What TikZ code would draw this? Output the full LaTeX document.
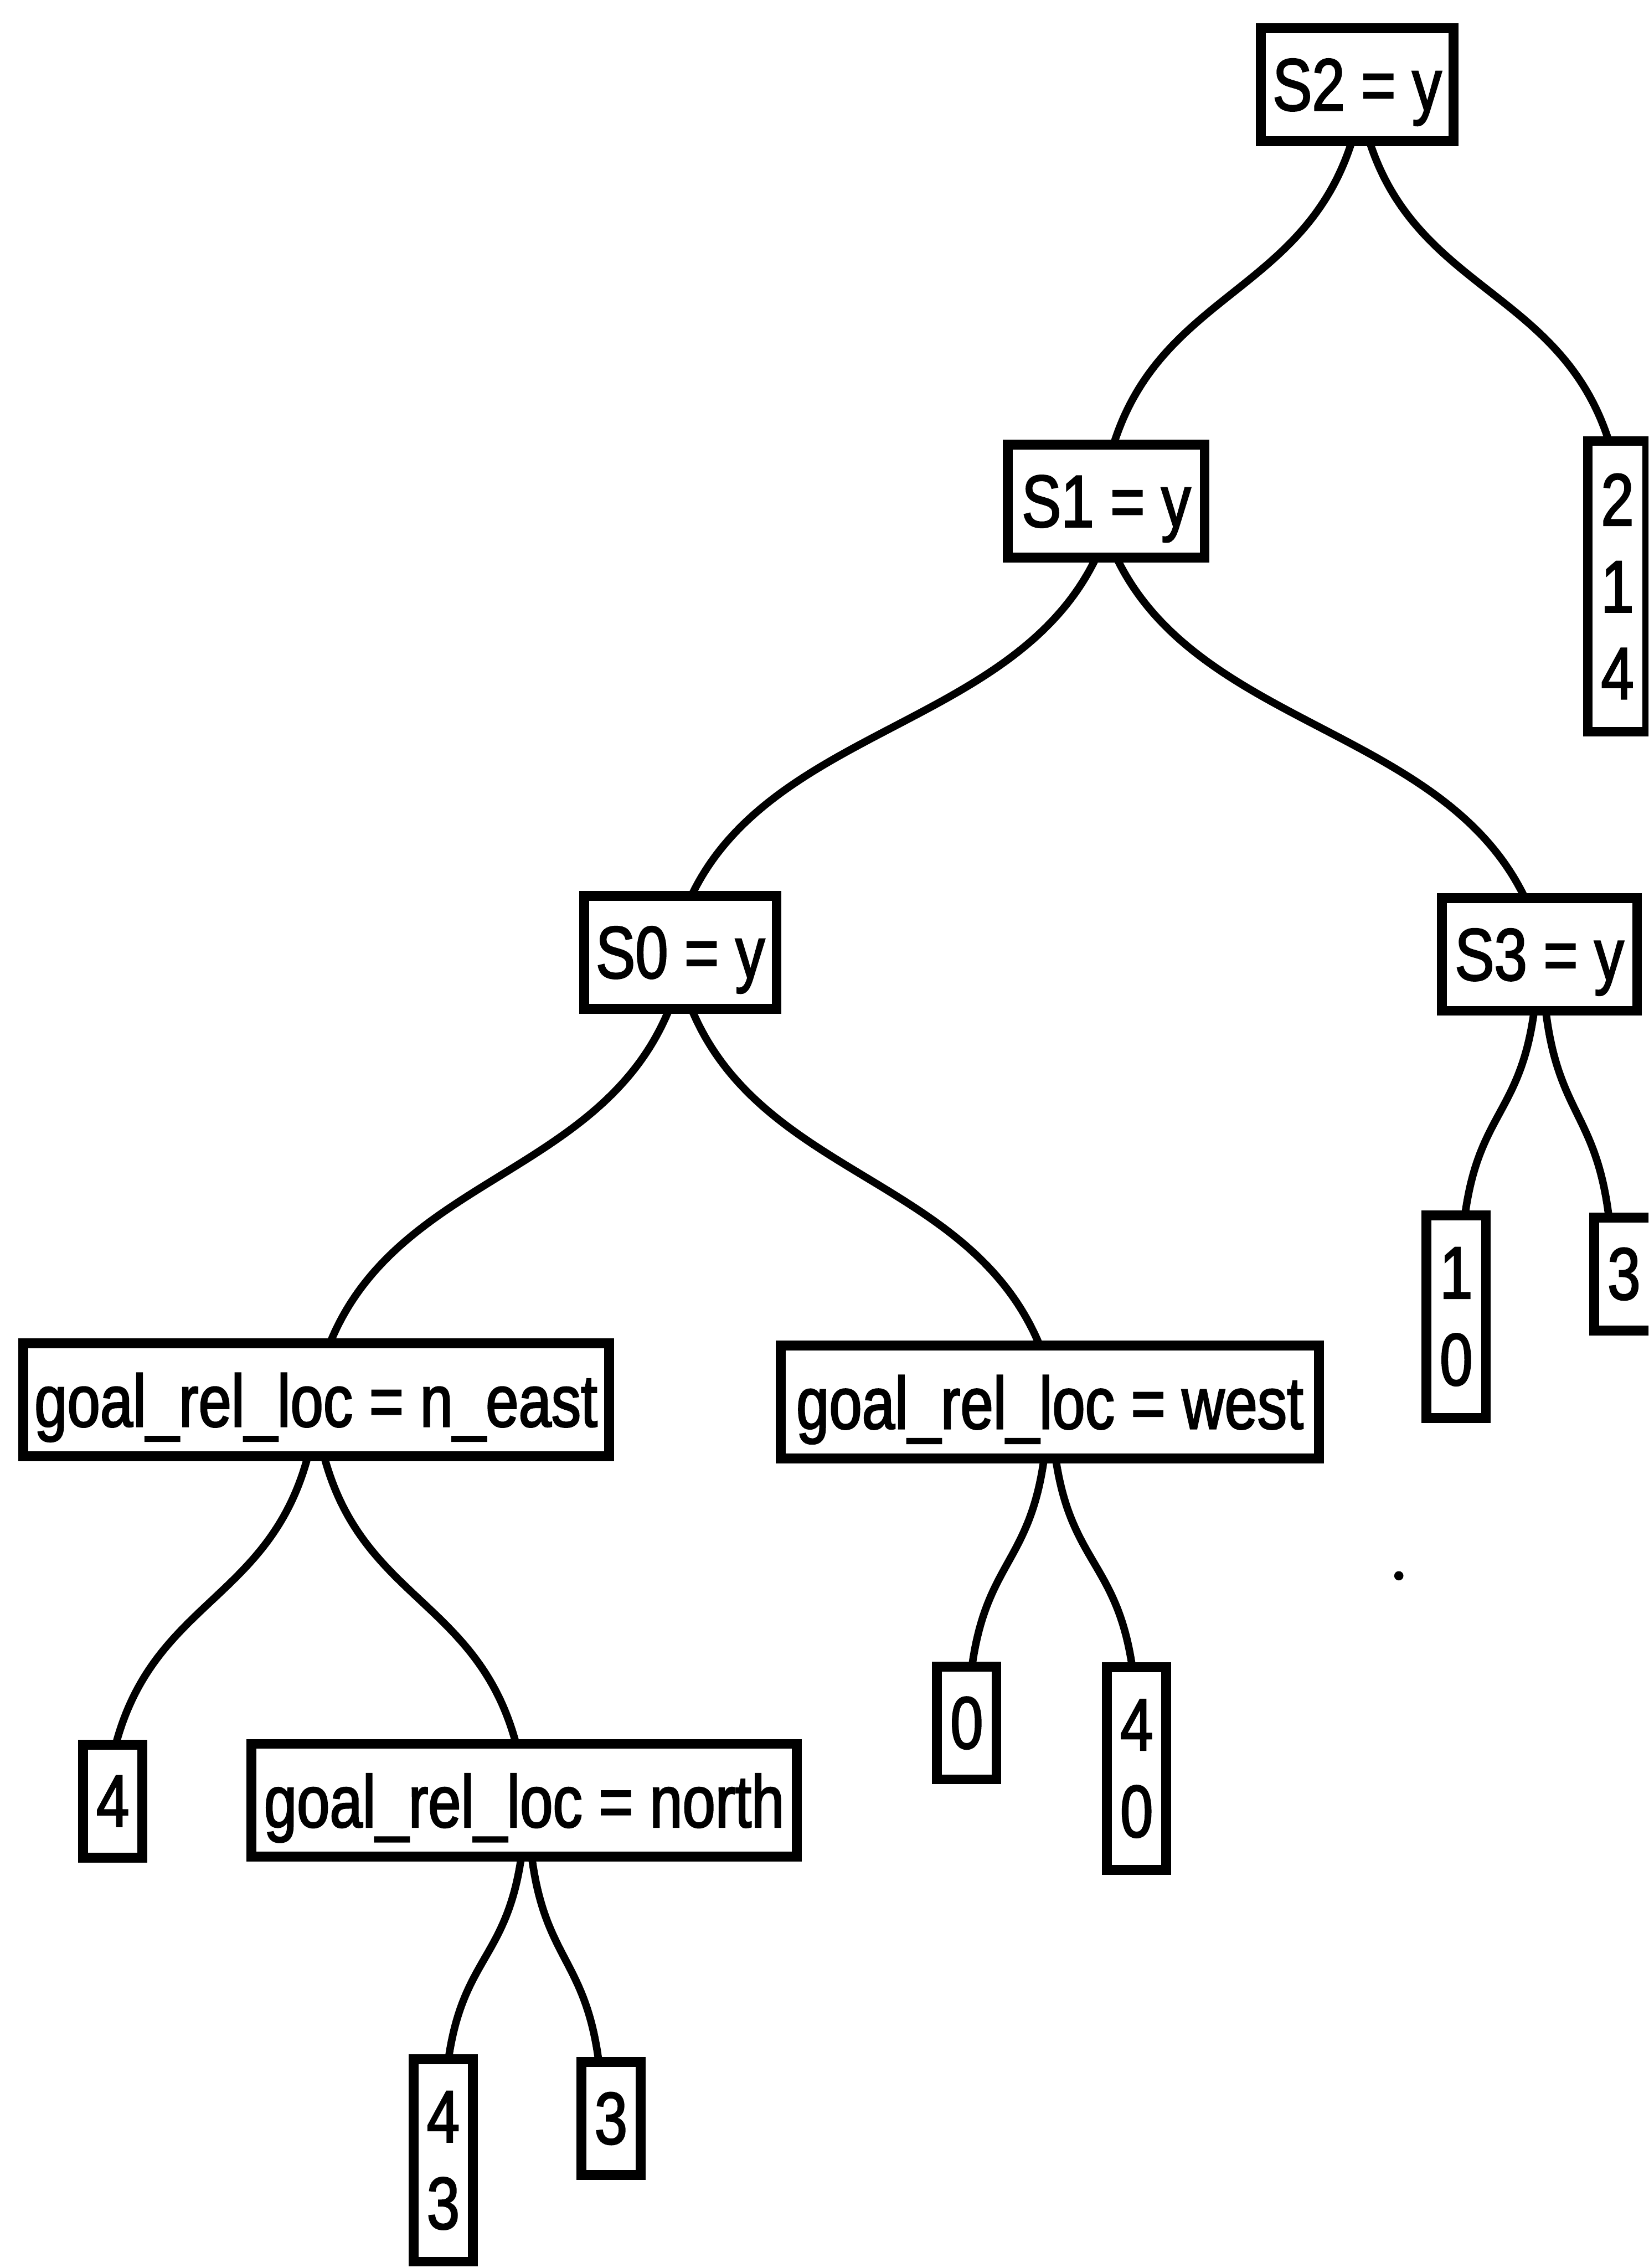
\documentclass[tikz,border=0pt]{standalone}
\usepackage{fontspec}
\setmainfont{Liberation Sans}[FakeStretch=0.8, FakeBold=2]
\usetikzlibrary{calc}
\newcommand\labelfont{\fontsize{36.3}{42.7}\selectfont}
\tikzset{
  box/.style={draw, line width=0.17cm, rectangle, inner sep=0pt, outer sep=0pt,
              font=\labelfont, align=center},
  test/.style={box, minimum height=1.95cm, text depth=0pt},
  leaf/.style={box, minimum width=1.025cm},
  one/.style={minimum height=1.95cm},
  two/.style={minimum height=3.5cm},
  three/.style={minimum height=5.025cm},
  conn/.style={line width=0.13cm},
}
% S-shaped branch from the bottom of a parent box to the top of a child box
\newcommand\branch[4]{%
  \draw[conn] let \p1=([xshift=#2]#1.south), \p2=([xshift=#4]#3.north) in
    (\p1) .. controls ({\x1+0.2*(\x2-\x1)},{\y1+0.5*(\y2-\y1)})
             and ({\x2-0.2*(\x2-\x1)},{\y2-0.5*(\y2-\y1)}) .. (\p2);}
\begin{document}
\begin{tikzpicture}[x=0.025cm, y=-0.025cm]
  \useasboundingbox (0,0) rectangle (1140,1568.4);
  \fill[white] (0,0) rectangle (1140,1568.4);
  \clip (0,0) rectangle (1140,1568.4);

  % tests
  \node[test, minimum width=3.325cm] (s2) at (938.5,58.5) {S2 = y};
  \node[test, minimum width=3.40cm]  (s1) at (765,346.5) {S1 = y};
  \node[test, minimum width=3.325cm] (s0) at (470.5,658.5) {S0 = y};
  \node[test, minimum width=3.375cm] (s3) at (1064.5,660) {S3 = y};
  \node[test, minimum width=10.125cm] (gne) at (218.5,968) {goal\_rel\_loc = n\_east};
  \node[test, minimum width=9.30cm]  (gw) at (726,969.5) {goal\_rel\_loc = west};
  \node[test, minimum width=9.425cm] (gn) at (362.5,1245) {goal\_rel\_loc = north};

  % leaves
  \node[leaf, three] (l214) at (1118.5,405.5) {2\\1\\4};
  \node[leaf, two]   (l10)  at (1007,910.5) {1\\0};
  \node[leaf, one]   (l3r)  at (1123,881) {3};
  \node[leaf, one]   (l4)   at (78,1245.5) {4};
  \node[leaf, one]   (l0)   at (668.5,1191.5) {0};
  \node[leaf, two]   (l40)  at (786,1223) {4\\0};
  \node[leaf, two]   (l43)  at (306.5,1494) {4\\3};
  \node[leaf, one]   (l3b)  at (422.5,1465) {3};

  % branches
  \branch{s2}{-0.09cm}{s1}{0.125cm}
  \branch{s2}{0.21cm}{l214}{-0.15cm}
  \branch{s1}{-0.175cm}{s0}{0.19cm}
  \branch{s1}{0.175cm}{s3}{-0.25cm}
  \branch{s0}{-0.19cm}{gne}{0.24cm}
  \branch{s0}{0.19cm}{gw}{-0.175cm}
  \branch{s3}{-0.09cm}{l10}{0.15cm}
  \branch{s3}{0.11cm}{l3r}{-0.26cm}
  \branch{gne}{-0.14cm}{l4}{0.05cm}
  \branch{gne}{0.14cm}{gn}{-0.14cm}
  \branch{gw}{-0.1cm}{l0}{0.09cm}
  \branch{gw}{0.1cm}{l40}{-0.075cm}
  \branch{gn}{-0.05cm}{l43}{0.09cm}
  \branch{gn}{0.13cm}{l3b}{-0.21cm}

  % stray speck
  \coordinate (speck) at (967.3,1089.7);
  \fill (speck) circle (0.08cm);
\end{tikzpicture}
\end{document}
